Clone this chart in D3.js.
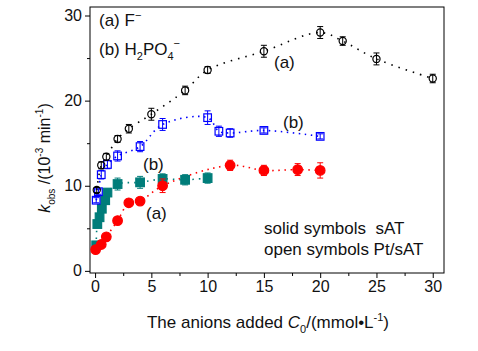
<!DOCTYPE html>
<html>
<head>
<meta charset="utf-8">
<script src="https://cdn.jsdelivr.net/npm/d3@7"></script>
<style>
  body { margin: 0; background: #fff; }
  text { font-family: Arial, "Liberation Sans", sans-serif; white-space: pre; }
</style>
</head>
<body>
<div id="chart-area"></div>
<script>
// (a) F- on Pt/sAT : open black circles
var ptF_x   = [0.15, 0.55, 1, 2, 3, 5, 8, 10, 15, 20, 22, 25, 30];
var ptF_y   = [9.5, 12.4, 13.4, 15.5, 16.7, 18.4, 21.2, 23.6, 25.8, 28.0, 27.0, 24.9, 22.6];
var ptF_err = [0.3, 0.4, 0.4, 0.4, 0.5, 0.7, 0.5, 0.4, 0.7, 0.7, 0.5, 0.7, 0.5];
// (b) H2PO4- on Pt/sAT : open blue squares
var ptP_x   = [0.1, 0.3, 0.55, 1.1, 2, 4, 6, 10, 11, 12, 15, 20];
var ptP_y   = [8.3, 9.3, 11.3, 12.5, 13.5, 14.6, 17.2, 18.0, 16.4, 16.2, 16.5, 15.8];
var ptP_err = [0.3, 0.3, 0.5, 0.5, 0.6, 0.6, 0.7, 0.8, 0.6, 0.5, 0.3, 0.3];
// (b) H2PO4- on sAT : solid teal squares
var sP_x    = [0.1, 0.2, 0.4, 0.6, 0.9, 1.1, 2, 4, 6, 8, 10];
var sP_y    = [3.0, 5.5, 6.3, 7.3, 8.3, 9.2, 10.2, 10.4, 10.8, 10.7, 10.9];
var sP_err  = [0.3, 0.3, 0.3, 0.3, 0.3, 0.4, 0.7, 0.7, 0.6, 0.6, 0.6];
// (a) F- on sAT : solid red circles
var sF_x    = [0.05, 0.55, 1, 2, 3, 4, 6, 12, 15, 18, 20];
var sF_y    = [2.5, 3.1, 4.0, 5.9, 8.0, 8.2, 10.0, 12.4, 11.8, 11.9, 11.8];
var sF_err  = [0.3, 0.3, 0.3, 0.4, 0.4, 0.4, 0.8, 0.6, 0.6, 0.7, 0.9];

var xTicks = [0, 5, 10, 15, 20, 25, 30];
var yTicks = [0, 10, 20, 30];

var width = 478, height = 351;
var frame = {left: 90, right: 444, top: 7, bottom: 273};

var svg = d3.select("#chart-area").append("svg")
    .attr("width", width)
    .attr("height", height);

var x = d3.scaleLinear().domain([-0.45, 31]).range([frame.left, frame.right]);
var y = d3.scaleLinear().domain([-0.25, 31]).range([frame.bottom, frame.top]);

// frame
svg.append("rect")
    .attr("x", frame.left).attr("y", frame.top)
    .attr("width", frame.right - frame.left)
    .attr("height", frame.bottom - frame.top)
    .attr("fill", "none").attr("stroke", "#000").attr("stroke-width", 1);

// axes
svg.append("g")
    .attr("transform", "translate(0," + frame.bottom + ")")
    .call(d3.axisBottom(x).tickValues(xTicks).tickSize(5).tickSizeOuter(0).tickPadding(3));
svg.append("g")
    .attr("transform", "translate(0," + frame.bottom + ")")
    .call(d3.axisBottom(x).tickValues([2.5, 7.5, 12.5, 17.5, 22.5, 27.5]).tickSize(3).tickSizeOuter(0).tickFormat(""));
svg.append("g")
    .attr("transform", "translate(" + frame.left + ",0)")
    .call(d3.axisLeft(y).tickValues(yTicks).tickSize(5).tickSizeOuter(0).tickPadding(3));
svg.append("g")
    .attr("transform", "translate(" + frame.left + ",0)")
    .call(d3.axisLeft(y).tickValues([5, 15, 25]).tickSize(3).tickSizeOuter(0).tickFormat(""));
svg.selectAll(".domain").remove();
svg.selectAll(".tick text")
    .attr("font-size", "16px")
    .attr("fill", "#111")
    .style("font-family", "Arial, 'Liberation Sans', sans-serif");

function zip(xs, ys, es) {
  return xs.map(function(d, i) { return {x: d, y: ys[i], e: es[i]}; });
}

var series = [
  {data: zip(sP_x, sP_y, sP_err),   color: "#007d7a", shape: "square", fill: true,  dash: "1.5,5"},
  {data: zip(sF_x, sF_y, sF_err),   color: "#ff0000", shape: "circle", fill: true,  dash: "1.5,4.5"},
  {data: zip(ptP_x, ptP_y, ptP_err), color: "#0000ff", shape: "square", fill: false, dash: "1.5,4.5"},
  {data: zip(ptF_x, ptF_y, ptF_err), color: "#000000", shape: "circle", fill: false, dash: "1.5,6"}
];

var line = d3.line()
    .x(function(d) { return x(d.x); })
    .y(function(d) { return y(d.y); })
    .curve(d3.curveCatmullRom.alpha(0.5));

series.forEach(function(s) {
  svg.append("path")
      .datum(s.data)
      .attr("d", line)
      .attr("fill", "none")
      .attr("stroke", s.color)
      .attr("stroke-width", 1.6)
      .attr("stroke-dasharray", s.dash);
});

series.forEach(function(s) {
  var g = svg.append("g");
  var eb = g.selectAll(".eb").data(s.data).enter().append("g");
  eb.append("line")
      .attr("x1", function(d) { return x(d.x); })
      .attr("x2", function(d) { return x(d.x); })
      .attr("y1", function(d) { return y(d.y - d.e); })
      .attr("y2", function(d) { return y(d.y + d.e); })
      .attr("stroke", s.color).attr("stroke-width", 1);
  [-1, 1].forEach(function(k) {
    eb.append("line")
        .attr("x1", function(d) { return x(d.x) - 3; })
        .attr("x2", function(d) { return x(d.x) + 3; })
        .attr("y1", function(d) { return y(d.y + k * d.e); })
        .attr("y2", function(d) { return y(d.y + k * d.e); })
        .attr("stroke", s.color).attr("stroke-width", 1);
  });
  if (s.shape == "circle") {
    g.selectAll(".m").data(s.data).enter().append("circle")
        .attr("cx", function(d) { return x(d.x); })
        .attr("cy", function(d) { return y(d.y); })
        .attr("r", s.fill ? 4.8 : 3.6)
        .attr("fill", s.fill ? s.color : "none")
        .attr("stroke", s.color).attr("stroke-width", 1.2);
  } else {
    var h = s.fill ? 4.3 : 3.8;
    g.selectAll(".m").data(s.data).enter().append("rect")
        .attr("x", function(d) { return x(d.x) - h; })
        .attr("y", function(d) { return y(d.y) - h; })
        .attr("width", 2 * h).attr("height", 2 * h)
        .attr("fill", s.fill ? s.color : "none")
        .attr("stroke", s.color).attr("stroke-width", 1.2);
  }
});

// annotations
function label(px, py, size) {
  return svg.append("text").attr("x", px).attr("y", py)
      .attr("font-size", size + "px").attr("fill", "#111");
}
var t1 = label(99, 26, 17);
t1.append("tspan").text("(a) F");
t1.append("tspan").attr("font-size", "11px").attr("dy", -7).text("\u2212");

var t2 = label(99, 55, 17);
t2.append("tspan").text("(b) H");
t2.append("tspan").attr("font-size", "11px").attr("dy", 5).text("2");
t2.append("tspan").attr("dy", -5).text("PO");
t2.append("tspan").attr("font-size", "11px").attr("dy", 5).text("4");
t2.append("tspan").attr("font-size", "11px").attr("dy", -13).text("\u2212");

label(274, 68, 17).text("(a)");
label(283, 128, 17).text("(b)");
label(143, 170, 17).text("(b)");
label(146, 219, 17).text("(a)");

label(264, 234, 17).text("solid symbols  sAT");
label(264, 255, 17).text("open symbols Pt/sAT");

// axis titles
var xl = svg.append("text").attr("x", 268).attr("y", 328)
    .attr("text-anchor", "middle").attr("font-size", "17px").attr("fill", "#111");
xl.append("tspan").text("The anions added ");
xl.append("tspan").attr("font-style", "italic").text("C");
xl.append("tspan").attr("font-size", "11px").attr("dy", 5).text("0");
xl.append("tspan").attr("dy", -5).text("/(mmol\u2022L");
xl.append("tspan").attr("font-size", "11px").attr("dy", -7).text("-1");
xl.append("tspan").attr("dy", 7).text(")");

var yl = svg.append("text")
    .attr("transform", "translate(50,158) rotate(-90)")
    .attr("text-anchor", "middle").attr("font-size", "16px").attr("fill", "#111");
yl.append("tspan").attr("font-style", "italic").text("k");
yl.append("tspan").attr("font-size", "10px").attr("dy", 5).text("obs");
yl.append("tspan").attr("dy", -5).text(" /(10");
yl.append("tspan").attr("font-size", "10px").attr("dy", -7).text("-3");
yl.append("tspan").attr("dy", 7).text(" min");
yl.append("tspan").attr("font-size", "10px").attr("dy", -7).text("-1");
yl.append("tspan").attr("dy", 7).text(")");
</script>
</body>
</html>
